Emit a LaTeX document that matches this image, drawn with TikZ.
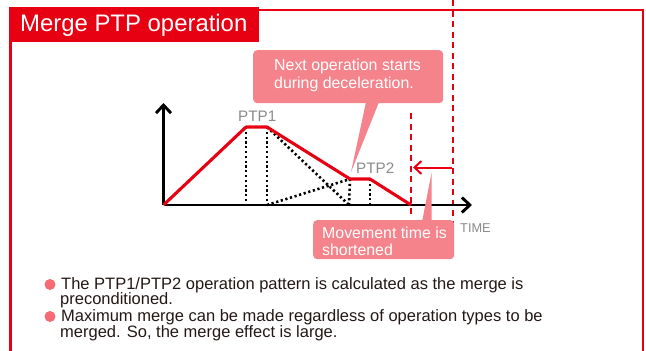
\documentclass[tikz,border=0pt]{standalone}
\usepackage{fontspec}
\setmainfont{Liberation Sans}
\usetikzlibrary{arrows.meta}
\definecolor{mred}{HTML}{E60012}
\definecolor{mpink}{HTML}{F4838B}
\definecolor{mdot}{HTML}{F46A75}
\definecolor{mgray}{HTML}{8A8A8A}
\definecolor{mtext}{HTML}{231815}
\tikzset{
  callout/.style={fill=mpink,draw=none,rounded corners=4pt},
  calltext/.style={text=white,align=left,anchor=west,inner sep=0pt},
  axisline/.style={line width=2.9pt,black,-{Straight Barb[length=8pt,width=15pt,line width=2.9pt]}},
  profile/.style={line width=3.1pt,mred,line join=round},
  dotline/.style={line width=2.6pt,black,dash pattern=on 2.2pt off 2.6pt},
  guide/.style={line width=1.5pt,mred,dash pattern=on 6pt off 4.5pt},
  plabel/.style={text=mgray,font=\fontsize{15.2}{17}\selectfont,inner sep=0pt},
  bodytext/.style={text=mtext,anchor=west,inner sep=0pt,font=\fontsize{16.5}{16}\selectfont},
  bullet/.style={circle,fill=mdot,draw=none,inner sep=0pt,minimum size=11pt}
}
\begin{document}
\begin{tikzpicture}[x=1pt,y=-1pt]
\useasboundingbox (0,0) rectangle (646,351);
% frame
\coordinate (fbl) at (10.5,351);
\coordinate (ftl) at (10.5,10);
\coordinate (ftr) at (643,10);
\coordinate (fbr) at (643,351);
\draw[line width=2.2pt,mred] (fbl) -- (ftl) -- (ftr) -- (fbr);
\node[fill=mred,minimum width=250pt,minimum height=35pt,anchor=north west,inner sep=0pt] (title) at (9,7) {};
\node[text=white,font=\fontsize{23.9}{28}\selectfont,anchor=west,inner sep=0pt] (titletext) at (20,25) {Merge PTP operation};
% guides
\coordinate (g1a) at (453,0);
\coordinate (g1b) at (453,224);
\coordinate (g2a) at (411,113);
\coordinate (g2b) at (411,218);
\draw[guide] (g1a) -- (g1b);
\draw[guide] (g2a) -- (g2b);
% callouts
\fill[mpink] (366,102) -- (351,172) -- (379,102) -- cycle;
\node[callout,minimum width=190pt,minimum height=53pt,anchor=north west,inner sep=0pt] (c1) at (253,50) {};
\node[calltext,font=\fontsize{15.9}{18}\selectfont] (c1t) at (274,75.5) {Next operation starts\\during deceleration.};
% points
\coordinate (o) at (163.5,205);
\coordinate (ytop) at (163.5,103);
\coordinate (xend) at (472,205);
\coordinate (p1) at (246,127);
\coordinate (p2) at (267,127);
\coordinate (p3) at (350,179);
\coordinate (p4) at (370,179);
\coordinate (p5) at (411,205);
\coordinate (b1) at (246,205);
\coordinate (b2) at (267,205);
\coordinate (b3) at (349,205);
\coordinate (b4) at (370,205);
% dotted
\draw[dotline] (p1) -- (b1);
\draw[dotline] (p2) -- (b2);
\draw[dotline] (p3) -- (b3);
\draw[dotline] (p4) -- (b4);
\draw[dotline] (p2) -- (b3);
\draw[dotline] (b2) -- (p3);
% axes
\draw[axisline] (o) -- (ytop);
\draw[axisline] (o) -- (xend);
% profile
\draw[profile] (o) -- (p1) -- (p2) -- (p3) -- (p4) -- (p5);
% arrow
\coordinate (aa) at (452,167.5);
\coordinate (ab) at (413,167.5);
\draw[line width=2pt,mred,-{Straight Barb[length=7pt,width=13pt,line width=2pt]}] (aa) -- (ab);
% callout 2
\fill[mpink] (422,222) -- (431.5,173) -- (431.5,222) -- cycle;
\node[callout,minimum width=141pt,minimum height=39pt,anchor=north west,inner sep=0pt] (c2) at (313,220) {};
\node[calltext,font=\fontsize{15.9}{17}\selectfont] (c2t) at (322,241) {Movement time is\\shortened};
% labels
\node[plabel,anchor=west] (l1) at (238,116) {PTP1};
\node[plabel,anchor=west] (l2) at (356,168) {PTP2};
\node[text=mgray,font=\fontsize{12.8}{14}\selectfont,anchor=west,inner sep=0pt] (l3) at (460,228) {TIME};
% body
\node[bullet] (b1c) at (50,284.5) {};
\node[bullet] (b2c) at (50,316.5) {};
\node[bodytext] (t1a) at (61,285) {The PTP1/PTP2 operation pattern is calculated as the merge is};
\node[bodytext] (t1b) at (60,300.5) {preconditioned.};
\node[bodytext] (t2a) at (61,317) {Maximum merge can be made regardless of operation types to be};
\node[bodytext] (t2b) at (60,333) {merged. So, the merge effect is large.};
\end{tikzpicture}
\end{document}
